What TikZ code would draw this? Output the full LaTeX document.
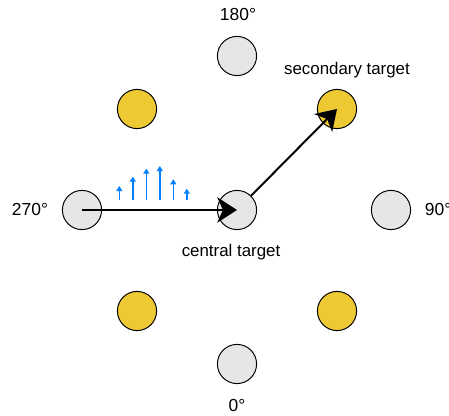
\documentclass[tikz,border=0pt]{standalone}
\usepackage{fontspec}
\setmainfont{Liberation Sans}
\usetikzlibrary{arrows.meta}
\definecolor{Ink}{HTML}{000000}
\definecolor{Disc}{HTML}{E6E6E6}
\definecolor{Gold}{HTML}{EDC933}
\definecolor{Flow}{HTML}{007FFF}

\begin{document}
\begin{tikzpicture}[x=1cm,y=1cm,>=Stealth,
  disc/.style={circle,minimum size=0.98cm,inner sep=0pt,draw=Ink,line width=0.7pt,fill=Disc},
  golddisc/.style={disc,fill=Gold},
  degtext/.style={font=\fontsize{12.4}{14}\selectfont,text=Ink},
  tagtext/.style={font=\fontsize{12}{14}\selectfont,text=Ink},
  move/.style={-{Stealth[length=14pt,width=18pt,inset=4pt]},Ink,line width=1.4pt},
  flow/.style={-{Triangle[length=3.6pt,width=4.2pt]},Flow,line width=1.1pt}]
\useasboundingbox (0,0) rectangle (11.225,10.4);
% ring of outer targets
\node[disc] (ctr) at (5.925,5.15) {};
\node[disc] (d180) at (5.925,9.000) {};
\node[disc] (d0) at (5.925,1.300) {};
\node[disc] (d270) at (2.050,5.150) {};
\node[disc] (d90) at (9.775,5.150) {};
\node[golddisc] (gnw) at (3.425,7.675) {};
\node[golddisc] (sec) at (8.425,7.675) {};
\node[golddisc] (gsw) at (3.425,2.625) {};
\node[golddisc] (gse) at (8.425,2.625) {};
% labels
\node[degtext] (l180) at (5.950,10.025) {180°};
\node[degtext] (l0) at (5.925,0.250) {0°};
\node[degtext,anchor=east] (l270) at (1.325,5.150) {270°};
\node[degtext,anchor=west] (l90) at (10.500,5.150) {90°};
\node[tagtext] (lsec) at (8.675,8.650) {secondary target};
\node[tagtext] (lctr) at (5.775,4.100) {central target};
% movement
\draw[move] (d270.center) -- (ctr.center);
\draw[move] (ctr) -- (sec.center);
% velocity profile
\foreach \i/\h in {0/0.35,1/0.585,2/0.785,3/0.85,4/0.52,5/0.285} {
  \coordinate (b\i) at ({2.983+0.3375*\i},5.40);
  \coordinate (t\i) at ({2.983+0.3375*\i},{5.40+\h});
  \draw[flow] (b\i) -- (t\i);
}
\end{tikzpicture}
\end{document}
